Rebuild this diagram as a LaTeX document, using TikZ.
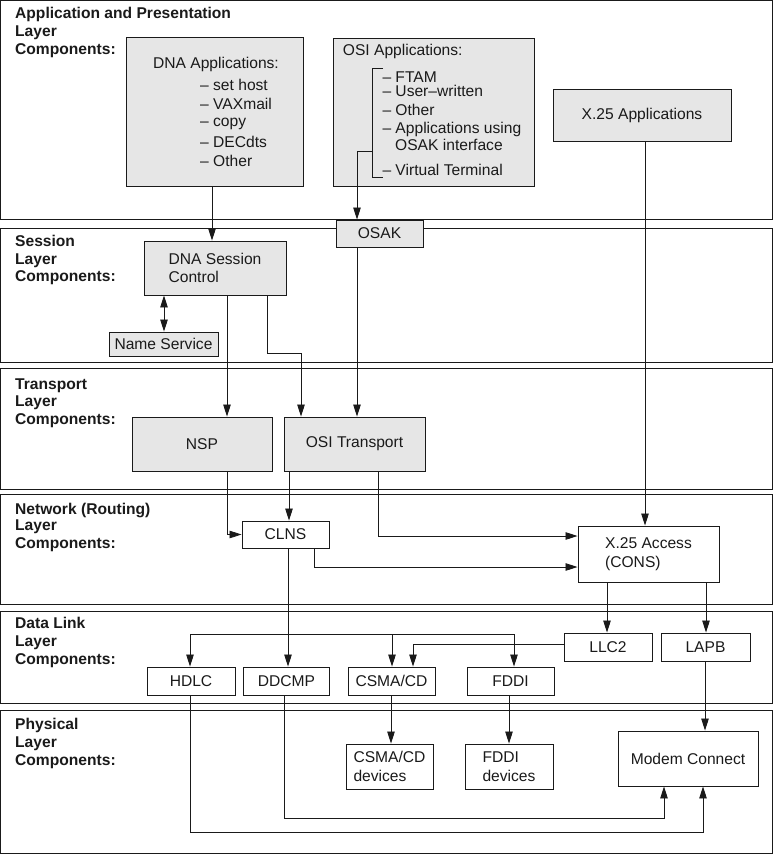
\documentclass[tikz,border=0pt]{standalone}
\usepackage{fontspec}
\setmainfont{Liberation Sans}
\usetikzlibrary{arrows.meta}
\definecolor{boxgray}{HTML}{E6E6E6}
\definecolor{ink}{HTML}{1A1A1A}
\begin{document}
\begin{tikzpicture}[x=1pt,y=-1pt,
  every node/.style={font=\fontsize{15.6}{18.5}\selectfont, text=ink},
  band/.style={draw=ink, line width=1pt},
  gbox/.style={draw=ink, line width=0.9pt, fill=boxgray, inner sep=0pt},
  wbox/.style={draw=ink, line width=0.9pt, fill=white, inner sep=0pt},
  lbl/.style={anchor=base west, inner sep=0pt, font=\fontsize{15.6}{18.5}\selectfont\bfseries},
  txt/.style={anchor=base west, inner sep=0pt},
  conn/.style={draw=ink, line width=0.8pt},
  arr/.style={conn, -{Triangle[length=12pt,width=7.5pt]}},
  darr/.style={conn, {Triangle[length=12pt,width=7.5pt]}-{Triangle[length=12pt,width=7.5pt]}}
]
\useasboundingbox (0,0) rectangle (773,854);

% layer bands
\draw[band] (0.5,0.5) rectangle (772.3,219);
\draw[band] (0.5,228) rectangle (772.3,362);
\draw[band] (0.5,368) rectangle (772.3,489);
\draw[band] (0.5,494) rectangle (772.3,604);
\draw[band] (0.5,611) rectangle (772.3,703);
\draw[band] (0.5,710) rectangle (772.3,853);

% layer labels
\node[lbl] (l1a) at (15,18.3) {Application and Presentation};
\node[lbl] (l1b) at (15,36) {Layer};
\node[lbl] (l1c) at (15,54.3) {Components:};
\node[lbl] (l2a) at (15,246) {Session};
\node[lbl] (l2b) at (15,264) {Layer};
\node[lbl] (l2c) at (15,281.7) {Components:};
\node[lbl] (l3a) at (15,389) {Transport};
\node[lbl] (l3b) at (15,406.7) {Layer};
\node[lbl] (l3c) at (15,424.3) {Components:};
\node[lbl] (l4a) at (15,514.3) {Network (Routing)};
\node[lbl] (l4b) at (15,530.5) {Layer};
\node[lbl] (l4c) at (15,548.3) {Components:};
\node[lbl] (l5a) at (15,628.7) {Data Link};
\node[lbl] (l5b) at (15,646.7) {Layer};
\node[lbl] (l5c) at (15,664) {Components:};
\node[lbl] (l6a) at (15,729.7) {Physical};
\node[lbl] (l6b) at (15,747.7) {Layer};
\node[lbl] (l6c) at (15,765.7) {Components:};

% application layer boxes
\node[gbox, minimum width=177pt, minimum height=149pt] (dnaapp) at (214.5,111.5) {};
\node[anchor=base, inner sep=0pt] (dnat) at (216,68.3) {DNA Applications:};
\node[txt] (dna1) at (200,90.7) {– set host};
\node[txt] (dna2) at (200,109) {– VAXmail};
\node[txt] (dna3) at (200,126.7) {– copy};
\node[txt] (dna4) at (200,147) {– DECdts};
\node[txt] (dna5) at (200,166) {– Other};

\node[gbox, minimum width=201pt, minimum height=148pt] (osiapp) at (433.5,112) {};
\node[txt] (osit0) at (342.7,55.3) {OSI Applications:};
\node[txt] (osi1) at (382.3,82.3) {– FTAM};
\node[txt] (osi2) at (382.3,96.7) {– User–written};
\node[txt] (osi3) at (382.3,115) {– Other};
\node[txt] (osi4) at (382.3,133.3) {– Applications using};
\node[txt] (osi5) at (395,150.7) {OSAK interface};
\node[txt] (osi6) at (382.3,175) {– Virtual Terminal};
\draw[conn] (383,68) -- (372,68) -- (372,177) -- (383,177);
\coordinate (brk) at (372,151);

\node[gbox, minimum width=178pt, minimum height=52pt] (x25app) at (642,115) {X.25 Applications};

% session layer
\node[gbox, minimum width=87pt, minimum height=27pt] (osak) at (379.5,233.5) {OSAK};
\node[gbox, minimum width=142pt, minimum height=54pt, align=left] (dnasess) at (215,268) {DNA Session\\Control};
\node[gbox, minimum width=109pt, minimum height=24pt] (namesvc) at (163.5,344) {Name Service};

% transport layer
\node[gbox, minimum width=140pt, minimum height=54pt] (nsp) at (202,444) {NSP};
\node[gbox, minimum width=141pt, minimum height=54pt] (osit) at (354.5,444) {OSI Transport};

% network layer
\node[wbox, minimum width=87pt, minimum height=27pt] (clns) at (285.5,534.5) {CLNS};
\node[wbox, minimum width=141pt, minimum height=56pt, align=left] (x25acc) at (648.5,554) {X.25 Access\\(CONS)};

% data link layer
\node[wbox, minimum width=88pt, minimum height=28pt] (hdlc) at (191,681) {HDLC};
\node[wbox, minimum width=86pt, minimum height=28pt] (ddcmp) at (286.5,681) {DDCMP};
\node[wbox, minimum width=87pt, minimum height=28pt] (csma) at (391.5,681) {CSMA/CD};
\node[wbox, minimum width=87pt, minimum height=28pt] (fddi) at (510.5,681) {FDDI};
\node[wbox, minimum width=88pt, minimum height=28pt] (llc2) at (608,647) {LLC2};
\node[wbox, minimum width=89pt, minimum height=28pt] (lapb) at (705.5,647) {LAPB};

% physical layer
\node[wbox, minimum width=87pt, minimum height=45pt, align=left] (csmadev) at (389.5,766.5) {CSMA/CD\\devices};
\node[wbox, minimum width=88pt, minimum height=45pt, align=left] (fddidev) at (509,766.5) {FDDI\\devices};
\node[wbox, minimum width=140pt, minimum height=55pt] (modem) at (688,758.5) {Modem Connect};

% connectors
\draw[arr] (dnaapp.south -| 212,0) -- (dnasess.north -| 212,0);
\draw[arr] (brk) -| (osak.north -| 357,0);
\draw[arr] (x25app.south -| 645,0) -- (x25acc.north -| 645,0);
\draw[darr] (dnasess.south -| 164,0) -- (namesvc.north -| 164,0);
\draw[arr] (dnasess.south -| 227,0) -- (nsp.north -| 227,0);
\draw[arr] (dnasess.south -| 267,0) |- (301,353) -- (osit.north -| 301,0);
\draw[arr] (osak.south -| 357,0) -- (osit.north -| 357,0);
\draw[arr] (nsp.south -| 227,0) |- (clns.west);
\draw[arr] (osit.south -| 289,0) -- (clns.north -| 289,0);
\draw[arr] (osit.south -| 378,0) |- (x25acc.west |- 0,536);
\draw[arr] (clns.south -| 314,0) |- (x25acc.west |- 0,567);
\draw[arr] (clns.south -| 288,0) -- (ddcmp.north -| 288,0);
\draw[arr] (x25acc.south -| 607,0) -- (llc2.north -| 607,0);
\draw[arr] (x25acc.south -| 706,0) -- (lapb.north -| 706,0);

\coordinate (busl) at (190,634);
\coordinate (busm) at (392,634);
\coordinate (busr) at (514,634);
\draw[conn] (busl) -- (busr);
\draw[arr] (busl) -- (hdlc.north -| busl);
\draw[arr] (busm) -- (csma.north -| busm);
\draw[arr] (busr) -- (fddi.north -| busr);
\draw[arr] (llc2.west |- 0,644) -| (csma.north -| 413,0);

\draw[arr] (csma.south -| 391,0) -- (csmadev.north -| 391,0);
\draw[arr] (fddi.south -| 509,0) -- (fddidev.north -| 509,0);
\draw[arr] (lapb.south -| 705,0) -- (modem.north -| 705,0);
\draw[arr] (ddcmp.south -| 284,0) |- (664,818) -- (modem.south -| 664,0);
\draw[arr] (hdlc.south -| 190,0) |- (703,832) -- (modem.south -| 703,0);
\end{tikzpicture}
\end{document}
